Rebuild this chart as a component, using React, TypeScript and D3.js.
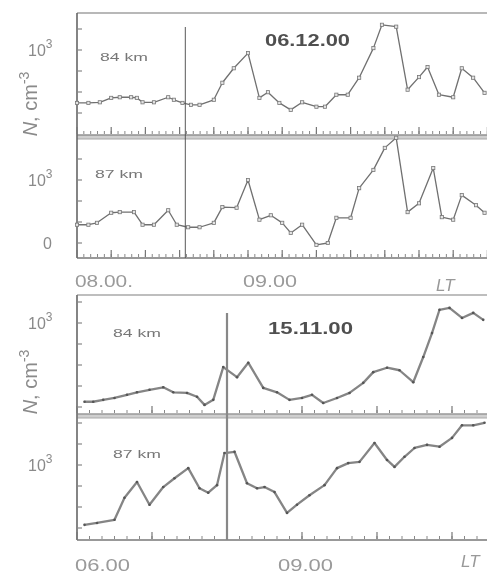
import React from "react";
import * as d3 from "d3";

// ---------- data (lg N), time in minutes ----------
// Figure A: 06.12.00, minutes after 08:00
const timeA84 = [0, 4, 8, 12, 15, 19, 21, 23, 27, 32, 34, 37, 40, 43, 48, 51, 55, 60, 64, 67, 71, 75, 79, 84, 87, 91, 95, 99, 104, 107, 112, 116, 120, 123, 127, 132, 135, 139, 143];
const lgA84 = [2.16, 2.16, 2.17, 2.24, 2.25, 2.25, 2.24, 2.17, 2.17, 2.25, 2.21, 2.16, 2.13, 2.13, 2.21, 2.48, 2.71, 2.95, 2.24, 2.33, 2.16, 2.05, 2.17, 2.1, 2.1, 2.29, 2.29, 2.56, 3.03, 3.4, 3.37, 2.37, 2.57, 2.73, 2.29, 2.25, 2.71, 2.56, 2.32];
const timeA87 = [0, 4, 7, 12, 15, 20, 23, 27, 32, 35, 39, 43, 48, 51, 56, 60, 64, 68, 72, 75, 79, 84, 88, 91, 96, 99, 104, 108, 112, 116, 120, 125, 128, 132, 135, 140, 143];
const lgA87 = [2.29, 2.29, 2.32, 2.48, 2.49, 2.49, 2.29, 2.29, 2.52, 2.29, 2.25, 2.25, 2.32, 2.57, 2.56, 3.0, 2.37, 2.44, 2.32, 2.16, 2.29, 1.97, 2.0, 2.4, 2.4, 2.87, 3.16, 3.51, 3.67, 2.49, 2.63, 3.19, 2.41, 2.37, 2.76, 2.6, 2.48];
// Figure B: 15.11.00, minutes after 06:00
const timeB84 = [6, 13, 21, 30, 40, 48, 58, 69, 77, 88, 96, 102, 109, 117, 128, 137, 149, 160, 170, 180, 188, 197, 208, 218, 229, 237, 248, 258, 269, 277, 284, 290, 298, 308, 317, 325];
const lgB84 = [1.75, 1.75, 1.78, 1.81, 1.86, 1.9, 1.94, 1.98, 1.9, 1.89, 1.83, 1.7, 1.78, 2.3, 2.14, 2.37, 1.97, 1.9, 1.78, 1.81, 1.86, 1.73, 1.81, 1.89, 2.05, 2.22, 2.29, 2.25, 2.06, 2.46, 2.84, 3.21, 3.24, 3.08, 3.16, 3.05];
const timeB87 = [6, 16, 30, 38, 48, 58, 69, 78, 89, 98, 105, 112, 118, 126, 136, 144, 150, 158, 168, 176, 186, 198, 208, 217, 226, 238, 248, 254, 262, 270, 280, 290, 300, 308, 317, 326];
const lgB87 = [2.05, 2.08, 2.13, 2.48, 2.73, 2.37, 2.65, 2.79, 2.95, 2.63, 2.56, 2.68, 3.19, 3.21, 2.71, 2.63, 2.65, 2.57, 2.24, 2.37, 2.52, 2.68, 2.95, 3.03, 3.05, 3.35, 3.08, 2.97, 3.13, 3.27, 3.32, 3.29, 3.43, 3.63, 3.63, 3.67];

const titles = ["06.12.00", "15.11.00"];
const heights = ["84 km", "87 km"];
const xLabelsA = [{ t: 0, text: "08.00." }, { t: 60, text: "09.00" }];
const xLabelsB = [{ t: 0, text: "06.00" }, { t: 180, text: "09.00" }];
const markerA = 38; // 08:38
const markerB = 120; // 08:00

const font = "'Liberation Sans', Arial, sans-serif";

type PanelDef = { top: number; bottom: number; y3: number };

function Panel({ p, x, times, vals, dots, yLabel, label, labelY }: any) {
  const y = d3.scaleLinear().domain([2, 3]).range([p.y3 + 63, p.y3]);
  const line = d3
    .line<number>()
    .x((_, i) => x(times[i]))
    .y((v) => y(v));
  const lgTicks = d3.range(-3, 9).map((k) => 2 + k / 3).filter((v) => y(v) > p.top + 3 && y(v) < p.bottom - 3);
  return (
    <g>
      {lgTicks.map((v, i) => (
        <line key={i} x1={77} x2={82} y1={y(v)} y2={y(v)} stroke="#888" strokeWidth={1.2} />
      ))}
      <path d={line(vals) || ""} fill="none" stroke={dots ? "#707070" : "#858585"} strokeWidth={dots ? 1.3 : 2.3} strokeLinejoin="round" />
      {dots
        ? vals.map((v: number, i: number) => (
            <rect key={i} x={x(times[i]) - 1.6} y={y(v) - 1.6} width={3.2} height={3.2} fill="#e4e4e4" stroke="#777" strokeWidth={0.8} />
          ))
        : vals.map((v: number, i: number) => <circle key={i} cx={x(times[i])} cy={y(v)} r={1.3} fill="#555" />)}
      {yLabel.map((l: any, i: number) => (
        <text key={i} x={l.sup ? 28 : 43} y={y(l.lg) + 6} fontSize={16} fill="#8a8a8a" fontFamily={font}>
          {l.sup ? (
            <>
              10<tspan dy={-8} fontSize={12}>3</tspan>
            </>
          ) : (
            "0"
          )}
        </text>
      ))}
      <text x={label.x} y={labelY} fontSize={11} fill="#777" fontFamily={font} textLength={48} lengthAdjust="spacingAndGlyphs">
        {label.text}
      </text>
    </g>
  );
}

function BottomTicks({ x, y, majors, minors }: any) {
  return (
    <g>
      {minors.map((t: number, i: number) => (
        <line key={"m" + i} x1={x(t)} x2={x(t)} y1={y} y2={y - 3} stroke="#888" strokeWidth={1} />
      ))}
      {majors.map((t: number, i: number) => (
        <line key={"M" + i} x1={x(t)} x2={x(t)} y1={y} y2={y - 7} stroke="#777" strokeWidth={1.2} />
      ))}
    </g>
  );
}

export default function App() {
  const xA = d3.scaleLinear().domain([0, 144]).range([77, 77 + (144 * 171) / 60]);
  const xB = d3.scaleLinear().domain([0, 328]).range([77, 77 + 328 * 1.25]);
  const p1: PanelDef = { top: 13, bottom: 135, y3: 50 };
  const p2: PanelDef = { top: 139, bottom: 258, y3: 180 };
  const p3: PanelDef = { top: 295, bottom: 415, y3: 323 };
  const p4: PanelDef = { top: 418, bottom: 540, y3: 465 };

  const majA = d3.range(0, 145, 12);
  const minA = d3.range(0, 145, 2.4);
  const majB = d3.range(0, 329, 60);
  const minB = d3.range(0, 329, 10);

  const lblW = [58, 54];
  const lblWB = [55, 55];

  return (
    <svg width={487} height={576} style={{ position: "absolute", left: 0, top: 0, background: "#fff" }}>
      <defs>
        <filter id="soft" x="-5%" y="-5%" width="110%" height="110%">
          <feGaussianBlur stdDeviation={0.55} />
        </filter>
      </defs>
      <rect width={487} height={576} fill="#fff" />
      <g filter="url(#soft)">
        {/* ---------- Figure A ---------- */}
        <line x1={77} x2={487} y1={13} y2={13} stroke="#a0a0a0" strokeWidth={1.5} />
        <rect x={77} y={135} width={410} height={4} fill="#cfcfcf" />
        <line x1={77} x2={487} y1={135} y2={135} stroke="#909090" strokeWidth={1.4} />
        <line x1={77} x2={487} y1={139} y2={139} stroke="#a8a8a8" strokeWidth={1.2} />
        <line x1={77} x2={487} y1={258} y2={258} stroke="#777" strokeWidth={1.5} />
        <line x1={77} x2={77} y1={13} y2={258} stroke="#666" strokeWidth={1.6} />
        <BottomTicks x={xA} y={134} majors={majA} minors={minA} />
        <BottomTicks x={xA} y={257} majors={majA} minors={minA} />
        <Panel p={p1} x={xA} times={timeA84} vals={lgA84} dots yLabel={[{ lg: 3, sup: true }]} label={{ x: 100, text: heights[0] }} labelY={61} />
        <Panel p={p2} x={xA} times={timeA87} vals={lgA87} dots yLabel={[{ lg: 3, sup: true }, { lg: 2, sup: false }]} label={{ x: 95, text: heights[1] }} labelY={178} />
        <line x1={xA(markerA)} x2={xA(markerA)} y1={27} y2={258} stroke="#555" strokeWidth={1} />
        <text x={265} y={46} fontSize={16} fontWeight="bold" fill="#505050" fontFamily={font} textLength={85} lengthAdjust="spacingAndGlyphs">
          {titles[0]}
        </text>
        {xLabelsA.map((l, i) => (
          <text key={i} x={xA(l.t) - 2 - 3 * i} y={287} fontSize={17} fill="#9a9a9a" fontFamily={font} textLength={lblW[i]} lengthAdjust="spacingAndGlyphs">
            {l.text}
          </text>
        ))}
        <text x={436} y={291} fontSize={17} fontStyle="italic" fill="#999" fontFamily={font}>
          LT
        </text>
        <text transform="translate(37,104) rotate(-90)" textAnchor="middle" fontSize={20} fill="#8a8a8a" fontFamily={font}>
          <tspan fontStyle="italic">N</tspan>, cm<tspan dy={-8} fontSize={14}>-3</tspan>
        </text>

        {/* ---------- Figure B ---------- */}
        <line x1={77} x2={487} y1={295} y2={295} stroke="#a8a8a8" strokeWidth={1.5} />
        <rect x={77} y={414} width={410} height={4} fill="#cfcfcf" />
        <line x1={77} x2={487} y1={414} y2={414} stroke="#999" strokeWidth={1.4} />
        <line x1={77} x2={487} y1={418} y2={418} stroke="#aaa" strokeWidth={1.2} />
        <line x1={77} x2={487} y1={540} y2={540} stroke="#777" strokeWidth={1.5} />
        <line x1={77} x2={77} y1={295} y2={540} stroke="#777" strokeWidth={1.8} />
        <BottomTicks x={xB} y={413} majors={majB} minors={minB} />
        <BottomTicks x={xB} y={539} majors={majB} minors={minB} />
        <Panel p={p3} x={xB} times={timeB84} vals={lgB84} dots={false} yLabel={[{ lg: 3, sup: true }]} label={{ x: 113, text: heights[0] }} labelY={337} />
        <Panel p={p4} x={xB} times={timeB87} vals={lgB87} dots={false} yLabel={[{ lg: 3, sup: true }]} label={{ x: 113, text: heights[1] }} labelY={458} />
        <line x1={xB(markerB)} x2={xB(markerB)} y1={313} y2={540} stroke="#888" strokeWidth={2.2} />
        <text x={268} y={334} fontSize={16} fontWeight="bold" fill="#505050" fontFamily={font} textLength={85} lengthAdjust="spacingAndGlyphs">
          {titles[1]}
        </text>
        {xLabelsB.map((l, i) => (
          <text key={i} x={i === 0 ? xB(l.t) - 2 : xB(l.t) - 24} y={571} fontSize={17} fill="#9a9a9a" fontFamily={font} textLength={lblWB[i]} lengthAdjust="spacingAndGlyphs">
            {l.text}
          </text>
        ))}
        <text x={461} y={567} fontSize={17} fontStyle="italic" fill="#999" fontFamily={font}>
          LT
        </text>
        <text transform="translate(37,382) rotate(-90)" textAnchor="middle" fontSize={20} fill="#8a8a8a" fontFamily={font}>
          <tspan fontStyle="italic">N</tspan>, cm<tspan dy={-8} fontSize={14}>-3</tspan>
        </text>
      </g>
    </svg>
  );
}
